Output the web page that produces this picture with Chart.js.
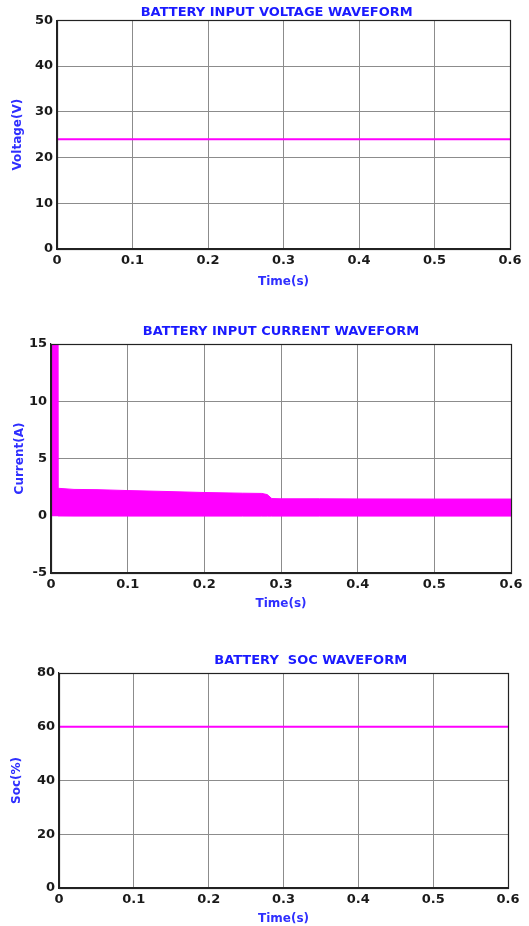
<!DOCTYPE html>
<html>
<head>
<meta charset="utf-8">
<script src="https://cdn.jsdelivr.net/npm/chart.js@4.4.0/dist/chart.umd.min.js"></script>
<style>
  html, body { margin: 0; padding: 0; background: #fff; overflow: hidden; }
  body { width: 529px; height: 926px; position: relative; }
  .box { position: absolute; left: 0; width: 529px; }
</style>
</head>
<body>
<div class="box" id="box1" style="top:0px;height:289px"><canvas id="voltChart"></canvas></div>
<div class="box" id="box2" style="top:310px;height:301px"><canvas id="currChart"></canvas></div>
<div class="box" id="box3" style="top:640px;height:286px"><canvas id="socChart"></canvas></div>
<script>
// time axis (s)
const timeTicks = [0, 0.1, 0.2, 0.3, 0.4, 0.5, 0.6];

// battery voltage (V) - flat
const voltTime = [0, 0.6];
const voltValues = [24, 24];

// battery current (A) - upper / lower envelope of the switching ripple
const currTime = [0, 0.0085, 0.009, 0.03, 0.06, 0.1, 0.15, 0.2, 0.25, 0.275, 0.282, 0.288, 0.3, 0.35, 0.4, 0.5, 0.6];
const currUpper = [16, 16, 2.4, 2.3, 2.28, 2.2, 2.12, 2.03, 1.97, 1.95, 1.85, 1.5, 1.48, 1.48, 1.47, 1.46, 1.46];
const currLower = [0, 0, -0.02, -0.03, -0.03, -0.03, -0.03, -0.03, -0.03, -0.03, -0.03, -0.03, -0.03, -0.03, -0.03, -0.03, -0.03];

// battery SOC (%) - flat
const socTime = [0, 0.6];
const socValues = [60, 60];

const BLUE = "#1a1aff";
const LABEL_BLUE = "#2f2fff";
const MAGENTA = "#ff00ff";
const GRID = "#8c8c8c";
const FONT = "'DejaVu Sans', Verdana, sans-serif";

// black box around the plot area like MATLAB
const boxPlugin = {
    id: "plotBox",
    afterDatasetsDraw(chart) {
        const a = chart.chartArea;
        const ctx = chart.ctx;
        ctx.save();
        ctx.strokeStyle = "#222";
        ctx.lineWidth = 1.2;
        ctx.strokeRect(Math.round(a.left) + 0.5, Math.round(a.top) + 0.5, Math.round(a.right - a.left), Math.round(a.bottom - a.top));
        ctx.restore();
    }
};

function toXY(xs, ys) {
    return xs.map((x, i) => ({ x: x, y: ys[i] }));
}

function makeChart(id, cfg) {
    const ctx = document.getElementById(id).getContext("2d");
    return new Chart(ctx, {
        type: "line",
        data: { datasets: cfg.datasets },
        options: {
            responsive: true,
            maintainAspectRatio: false,
            animation: false,
            layout: { padding: { left: 0, right: cfg.padRight, top: 0, bottom: 0 } },
            elements: { point: { radius: 0 }, line: { tension: 0 } },
            plugins: {
                legend: { display: false },
                tooltip: { enabled: false },
                title: {
                    display: true,
                    text: cfg.title,
                    color: BLUE,
                    fullSize: false,
                    font: { family: FONT, size: 13, weight: "bold" },
                    padding: { top: cfg.titleTop, bottom: cfg.titleBottom }
                }
            },
            scales: {
                x: {
                    type: "linear",
                    min: 0,
                    max: 0.6,
                    afterBuildTicks: axis => { axis.ticks = timeTicks.map(v => ({ value: v })); },
                    afterFit: axis => { axis.height = cfg.xHeight; },
                    grid: { color: GRID, drawTicks: false, lineWidth: 1 },
                    border: { color: "#222", width: 1.2 },
                    ticks: {
                        color: "#1a1a1a",
                        padding: 4,
                        maxRotation: 0,
                        font: { family: FONT, size: 13, weight: "bold" },
                        callback: v => String(Math.round(v * 10) / 10)
                    },
                    title: {
                        display: true,
                        text: "Time(s)",
                        color: LABEL_BLUE,
                        font: { family: FONT, size: 12, weight: "bold" },
                        padding: { top: 0, bottom: 0 }
                    }
                },
                y: {
                    min: cfg.yMin,
                    max: cfg.yMax,
                    afterBuildTicks: axis => { axis.ticks = cfg.yTicks.map(v => ({ value: v })); },
                    afterFit: axis => { axis.width = cfg.yWidth; },
                    grid: { color: GRID, drawTicks: false, lineWidth: 1 },
                    border: { color: "#222", width: 1.2 },
                    ticks: {
                        color: "#1a1a1a",
                        padding: 4,
                        font: { family: FONT, size: 13, weight: "bold" }
                    },
                    title: {
                        display: true,
                        text: cfg.yTitle,
                        color: LABEL_BLUE,
                        font: { family: FONT, size: 12, weight: "bold" },
                        padding: { top: cfg.yTitleTop, bottom: 0 }
                    }
                }
            }
        },
        plugins: [boxPlugin]
    });
}

makeChart("voltChart", {
    title: "BATTERY INPUT VOLTAGE WAVEFORM   ",
    titleTop: 4.5, titleBottom: 0.2,
    padRight: 19,
    yMin: 0, yMax: 50, yTicks: [0, 10, 20, 30, 40, 50],
    yWidth: 57, yTitle: "Voltage(V)", yTitleTop: 11,
    xHeight: 40,
    datasets: [{
        data: toXY(voltTime, voltValues),
        borderColor: MAGENTA,
        borderWidth: 2
    }]
});

makeChart("currChart", {
    title: "BATTERY INPUT CURRENT WAVEFORM",
    titleTop: 13.8, titleBottom: 4.6,
    padRight: 18,
    yMin: -5, yMax: 15, yTicks: [-5, 0, 5, 10, 15],
    yWidth: 51, yTitle: "Current(A)", yTitleTop: 13,
    xHeight: 38,
    datasets: [
        {
            data: toXY(currTime, currLower),
            borderColor: MAGENTA,
            borderWidth: 1,
            fill: false
        },
        {
            data: toXY(currTime, currUpper),
            borderColor: MAGENTA,
            borderWidth: 1,
            backgroundColor: MAGENTA,
            fill: "-1"
        }
    ]
});

makeChart("socChart", {
    title: "            BATTERY  SOC WAVEFORM",
    titleTop: 12.8, titleBottom: 4.6,
    padRight: 21,
    yMin: 0, yMax: 80, yTicks: [0, 20, 40, 60, 80],
    yWidth: 59, yTitle: "Soc(%)", yTitleTop: 10,
    xHeight: 38,
    datasets: [{
        data: toXY(socTime, socValues),
        borderColor: MAGENTA,
        borderWidth: 2
    }]
});
</script>
</body>
</html>
